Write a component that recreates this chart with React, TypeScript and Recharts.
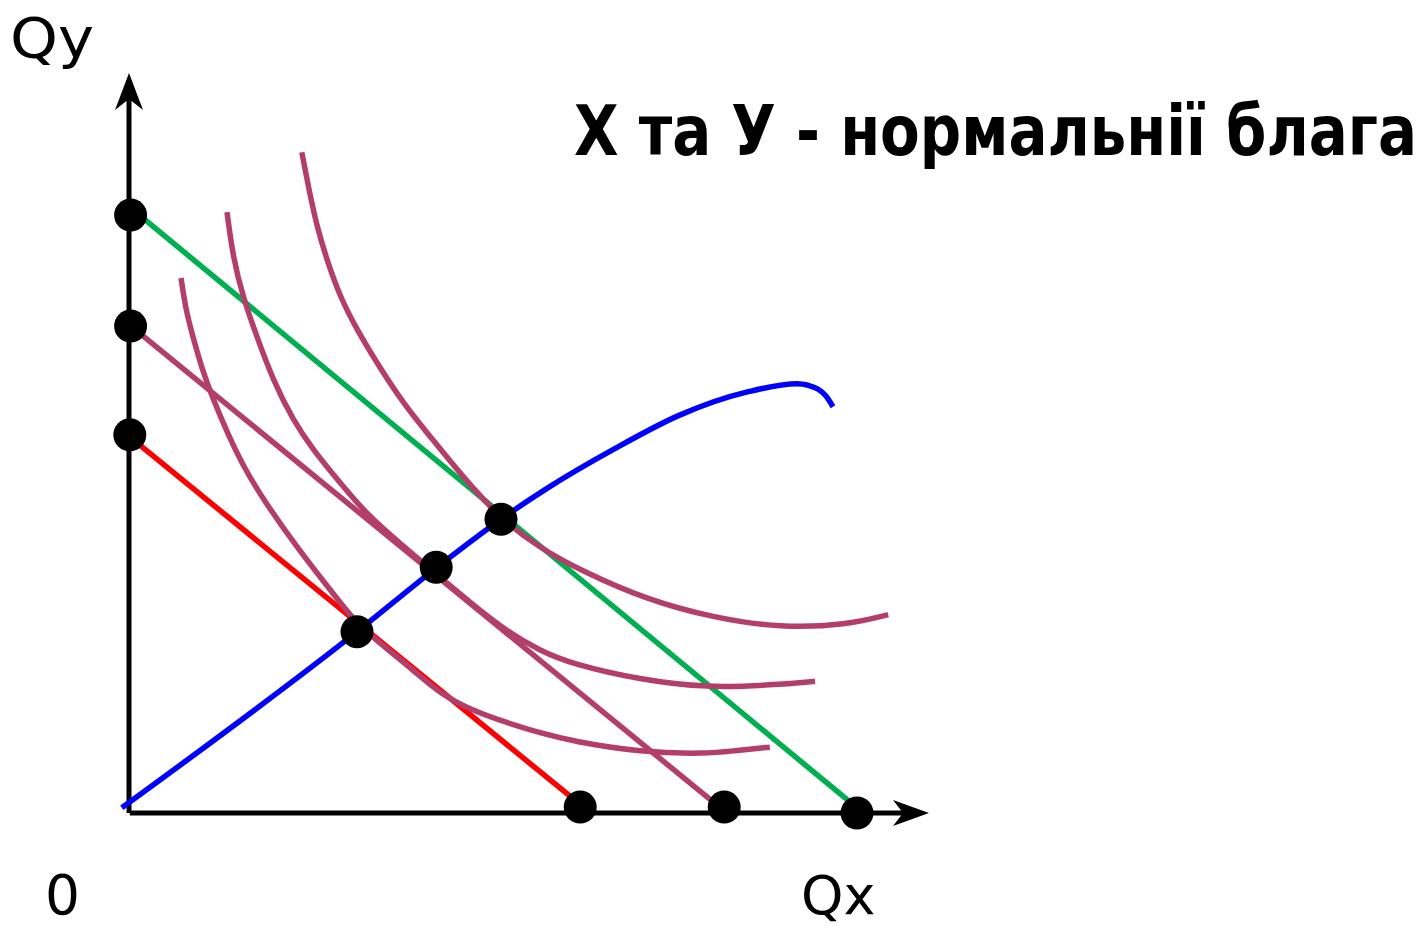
import React from "react";
import {
  ComposedChart,
  Line,
  Scatter,
  XAxis,
  YAxis,
  ReferenceLine,
  ReferenceDot,
} from "recharts";

// Budget lines (Qx, Qy)
const budgetRed = [
  { x: 0.25, y: 50.7 },
  { x: 55.1, y: 2.3 },
];
const budgetPurple = [
  { x: 0.25, y: 65.8 },
  { x: 72.9, y: 1.6 },
];
const budgetGreen = [
  { x: 0.4, y: 81.6 },
  { x: 90.0, y: 1.6 },
];

// Indifference curves
const ic1 = [
  { x: 6.5, y: 72.3 },
  { x: 7.1, y: 68.0 },
  { x: 8.0, y: 64.3 },
  { x: 9.1, y: 60.1 },
  { x: 10.4, y: 56.2 },
  { x: 12.4, y: 51.1 },
  { x: 14.5, y: 46.4 },
  { x: 17.25, y: 41.6 },
  { x: 21.4, y: 35.3 },
  { x: 25.5, y: 29.7 },
  { x: 28.5, y: 25.5 },
  { x: 32.0, y: 22.4 },
  { x: 35.75, y: 19.1 },
  { x: 38.9, y: 16.1 },
  { x: 43.0, y: 13.8 },
  { x: 47.25, y: 12.2 },
  { x: 51.4, y: 10.8 },
  { x: 55.5, y: 9.7 },
  { x: 63.9, y: 8.2 },
  { x: 72.25, y: 8.0 },
  { x: 75.5, y: 8.4 },
  { x: 80.1, y: 8.9 },
];
const ic2 = [
  { x: 12.25, y: 81.2 },
  { x: 13.0, y: 75.1 },
  { x: 14.25, y: 69.7 },
  { x: 16.0, y: 64.3 },
  { x: 18.0, y: 58.5 },
  { x: 20.5, y: 53.1 },
  { x: 23.0, y: 49.1 },
  { x: 26.1, y: 45.0 },
  { x: 29.75, y: 40.3 },
  { x: 33.9, y: 36.4 },
  { x: 38.4, y: 32.3 },
  { x: 42.6, y: 28.5 },
  { x: 47.0, y: 24.7 },
  { x: 51.4, y: 21.9 },
  { x: 55.5, y: 20.1 },
  { x: 63.9, y: 18.0 },
  { x: 72.25, y: 16.9 },
  { x: 80.5, y: 17.3 },
  { x: 85.75, y: 17.8 },
];
const ic3 = [
  { x: 21.6, y: 89.3 },
  { x: 22.5, y: 84.2 },
  { x: 23.5, y: 79.2 },
  { x: 24.75, y: 74.7 },
  { x: 26.4, y: 69.7 },
  { x: 28.5, y: 65.3 },
  { x: 31.0, y: 60.8 },
  { x: 34.25, y: 55.4 },
  { x: 38.0, y: 50.4 },
  { x: 41.75, y: 45.4 },
  { x: 46.5, y: 39.7 },
  { x: 51.4, y: 35.8 },
  { x: 56.4, y: 32.8 },
  { x: 64.75, y: 28.8 },
  { x: 73.0, y: 26.4 },
  { x: 81.4, y: 25.0 },
  { x: 89.75, y: 25.4 },
  { x: 94.9, y: 26.8 },
];

// Income-consumption curve
const icc = [
  { x: -0.9, y: 0.7 },
  { x: 28.5, y: 24.5 },
  { x: 38.5, y: 33.2 },
  { x: 46.5, y: 39.7 },
  { x: 52.3, y: 43.9 },
  { x: 60.5, y: 49.1 },
  { x: 68.9, y: 53.8 },
  { x: 77.3, y: 56.9 },
  { x: 83.5, y: 58.0 },
  { x: 84.9, y: 57.8 },
  { x: 86.1, y: 57.3 },
  { x: 87.1, y: 56.4 },
  { x: 88.0, y: 54.9 },
];

// Marked points
const points = [
  { x: 0.2, y: 80.8 },
  { x: 0.2, y: 65.8 },
  { x: 0.1, y: 51.1 },
  { x: 56.4, y: 0.8 },
  { x: 74.4, y: 0.8 },
  { x: 91.0, y: 0 },
  { x: 28.5, y: 24.5 },
  { x: 38.4, y: 33.2 },
  { x: 46.5, y: 39.7 },
];

const title = "Х та У - нормальнії блага";
const yLabel = "Qy";
const xLabel = "Qx";
const originLabel = "0";

const PURPLE = "#b43e6a";
const W = 5.5;

const UpArrow = (p: any) => (
  <polygon
    points={`${p.cx},${p.cy} ${p.cx - 14},${p.cy + 37} ${p.cx},${p.cy + 26} ${p.cx + 14},${p.cy + 37}`}
    fill="#000"
  />
);
const RightArrow = (p: any) => (
  <polygon
    points={`${p.cx},${p.cy} ${p.cx - 36},${p.cy - 13} ${p.cx - 26},${p.cy} ${p.cx - 36},${p.cy + 13}`}
    fill="#000"
  />
);
const BigDot = (p: any) => <circle cx={p.cx} cy={p.cy} r={16.5} fill="#000" />;

export default function App() {
  return (
    <div style={{ position: "absolute", left: 0, top: 0, width: 1424, height: 926, background: "#fff" }}>
      <ComposedChart
        width={1424}
        height={926}
        margin={{ top: 36, left: 49, right: 415, bottom: 39 }}
      >
        <XAxis type="number" dataKey="x" domain={[-10, 110]} allowDataOverflow hide />
        <YAxis type="number" dataKey="y" domain={[-10, 105]} allowDataOverflow hide />
        <ReferenceLine
          segment={[{ x: 0, y: 0 }, { x: 0, y: 99 }]}
          stroke="#000"
          strokeWidth={5}
          ifOverflow="visible"
        />
        <ReferenceLine
          segment={[{ x: 0.1, y: 0 }, { x: 99, y: 0 }]}
          stroke="#000"
          strokeWidth={5}
          ifOverflow="visible"
        />
        <ReferenceDot x={0} y={100} r={1} shape={UpArrow} ifOverflow="visible" />
        <ReferenceDot x={100} y={0} r={1} shape={RightArrow} ifOverflow="visible" />

        <Line data={budgetRed} dataKey="y" type="linear" stroke="#ff0000" strokeWidth={W} dot={false} isAnimationActive={false} />
        <Line data={budgetPurple} dataKey="y" type="linear" stroke={PURPLE} strokeWidth={W} dot={false} isAnimationActive={false} />
        <Line data={budgetGreen} dataKey="y" type="linear" stroke="#00b050" strokeWidth={W} dot={false} isAnimationActive={false} />
        <Line data={ic1} dataKey="y" type="basis" stroke={PURPLE} strokeWidth={W} dot={false} isAnimationActive={false} />
        <Line data={ic2} dataKey="y" type="basis" stroke={PURPLE} strokeWidth={W} dot={false} isAnimationActive={false} />
        <Line data={ic3} dataKey="y" type="basis" stroke={PURPLE} strokeWidth={W} dot={false} isAnimationActive={false} />
        <Line data={icc} dataKey="y" type="monotone" stroke="#0000ff" strokeWidth={W} dot={false} isAnimationActive={false} />
        <Scatter data={points} dataKey="y" shape={BigDot} isAnimationActive={false} />
      </ComposedChart>
      <svg
        width={1424}
        height={926}
        style={{ position: "absolute", left: 0, top: 0, pointerEvents: "none" }}
      >
        <text x={10} y={57} fontFamily="DejaVu Sans" fontSize={55} textLength={84} lengthAdjust="spacingAndGlyphs" fill="#000">
          {yLabel}
        </text>
        <text x={45} y={914} fontFamily="DejaVu Sans" fontSize={55} fill="#000">
          {originLabel}
        </text>
        <text x={801} y={914} fontFamily="DejaVu Sans" fontSize={54} fill="#000">
          {xLabel}
        </text>
        <text
          transform="translate(574,155) scale(1,1.08)"
          x={0}
          y={0}
          fontFamily="'DejaVu Sans Condensed', 'DejaVu Sans'"
          fontWeight="bold"
          fontSize={64}
          textLength={843}
          lengthAdjust="spacingAndGlyphs"
          fill="#000"
        >
          {title}
        </text>
      </svg>
    </div>
  );
}
